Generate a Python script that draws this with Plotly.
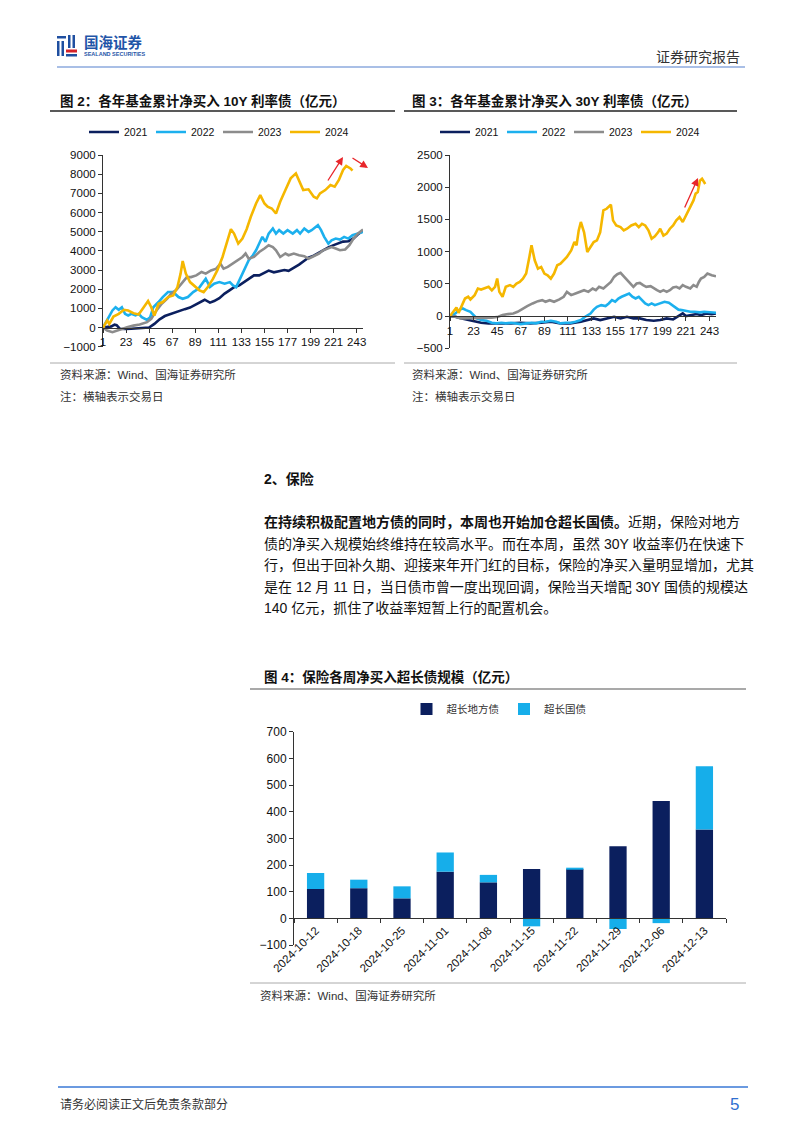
import plotly.graph_objects as go

W, H = 802, 1133


def X(p):
    return p / W


def Y(p):
    return 1 - p / H


# ---------------- data ----------------
years = ["2021", "2022", "2023", "2024"]
line_colors = ["#0b1f5e", "#1cb0ee", "#8c8c8c", "#f5b700"]
day_ticks = [1, 23, 45, 67, 89, 111, 133, 155, 177, 199, 221, 243]

# Figure 2: cumulative fund net purchase of 10Y rate bonds (100m CNY)
d10_2021 = [1, 5, 9, 12, 14, 17, 22, 28, 35, 40, 45, 50, 55, 60, 65, 70, 74, 79, 84, 88, 93, 98, 103, 107,
            112, 117, 122, 126, 131, 136, 140, 145, 150, 155, 159, 164, 169, 174, 178, 183, 188, 193, 197,
            202, 207, 211, 216, 221, 226, 230, 235, 240, 244, 249]
v10_2021 = [0, 40, 60, 150, 120, -60, -80, -60, -40, -20, 0, 190, 430, 600, 700, 820, 900, 960, 1040, 1150,
            1330, 1450, 1300, 1380, 1530, 1770, 1950, 2100, 2200, 2380, 2520, 2720, 2720, 2880, 2970, 2880,
            2950, 3000, 2960, 3100, 3280, 3480, 3640, 3750, 3900, 4050, 4180, 4300, 4420, 4480, 4500, 4650,
            4850, 5050]

d10_2022 = [1, 5, 10, 13, 16, 19, 22, 25, 28, 32, 35, 38, 43, 46, 49, 54, 58, 63, 68, 73, 77, 82, 87, 92, 96,
            99, 103, 107, 112, 117, 122, 125, 128, 131, 136, 140, 144, 147, 150, 153, 156, 159, 163, 166, 169,
            173, 177, 182, 186, 189, 193, 197, 200, 204, 206, 209, 212, 216, 219, 223, 227, 231, 235, 239, 243,
            249]
v10_2022 = [0, 370, 890, 1060, 925, 1060, 715, 630, 715, 630, 715, 540, 400, 540, 1060, 1330, 1590, 1850, 1850,
            1590, 1500, 1590, 1850, 2020, 2290, 2550, 2110, 2290, 2370, 2290, 2370, 2200, 2110, 2460, 2980,
            3510, 3770, 4030, 4380, 4730, 4470, 4900, 5165, 4900, 5080, 4900, 5080, 4900, 5080, 4900, 5165,
            4990, 5080, 5250, 5340, 5080, 4730, 4380, 4550, 4640, 4590, 4730, 4640, 4820, 4900, 4990]

d10_2023 = [1, 5, 10, 14, 19, 24, 30, 36, 43, 47, 52, 57, 62, 66, 71, 76, 81, 85, 90, 95, 99, 104, 109, 113,
            116, 120, 125, 129, 134, 137, 140, 145, 150, 155, 159, 163, 166, 170, 175, 178, 183, 188, 193, 197,
            202, 207, 211, 215, 219, 223, 227, 232, 236, 240, 244, 249]
v10_2023 = [0, -160, -240, -160, -70, 20, 100, 160, 280, 450, 890, 1240, 1500, 1760, 1970, 2290, 2630, 2630,
            2720, 2900, 2810, 2980, 3070, 3330, 3070, 3160, 3330, 3510, 3680, 3860, 3590, 3680, 3940, 4120,
            4290, 4200, 4030, 3680, 3860, 3770, 3860, 3770, 3720, 3590, 3720, 3860, 4030, 4120, 4200, 4120,
            4030, 4070, 4290, 4640, 4900, 5110]

d10_2024 = [1, 5, 7, 11, 16, 21, 25, 30, 35, 40, 44, 47, 50, 54, 58, 63, 68, 72, 75, 77, 80, 84, 88, 93, 97,
            101, 106, 110, 115, 120, 123, 126, 130, 134, 138, 142, 147, 151, 155, 158, 162, 166, 170, 175, 180,
            185, 189, 192, 197, 202, 205, 208, 213, 218, 222, 226, 230, 233, 237, 239]
v10_2024 = [0, 366, 190, 575, 715, 925, 890, 750, 680, 1060, 1380, 1060, 630, 1240, 1330, 1590, 1675, 2110,
            2810, 3470, 2810, 2370, 2200, 1940, 1850, 2110, 2550, 2980, 3680, 4550, 5130, 4900, 4380, 4640,
            5130, 5780, 6470, 6910, 6470, 6300, 6210, 5950, 6560, 7170, 7780, 8040, 7520, 7170, 7210, 6820,
            6740, 7000, 7170, 7430, 7350, 7700, 8220, 8430, 8300, 8180]

# Figure 3: cumulative fund net purchase of 30Y rate bonds (100m CNY)
d30_2021 = [1, 6, 12, 18, 24, 30, 37, 43, 49, 58, 67, 76, 86, 95, 104, 113, 123, 130, 135, 141, 148, 154, 160,
            166, 172, 178, 184, 191, 197, 203, 209, 215, 218, 221, 226, 231, 235, 240, 245, 249]
v30_2021 = [0, -10, -36, -62, -88, -103, -113, -113, -124, -113, -103, -113, -103, -88, -113, -113, -88, -62,
            -36, -62, -36, -10, -36, -10, -36, -36, -62, -72, -62, -36, -52, 15, 41, 0, 15, 31, 15, 41, 31, 41]

d30_2022 = [1, 6, 10, 13, 16, 20, 23, 26, 30, 35, 40, 44, 49, 53, 58, 63, 67, 72, 77, 81, 86, 90, 95, 100, 104,
            109, 114, 118, 123, 127, 132, 135, 138, 142, 146, 149, 152, 155, 158, 161, 164, 168, 171, 174, 177,
            180, 183, 186, 189, 192, 195, 198, 201, 205, 208, 211, 214, 217, 220, 225, 229, 234, 238, 245, 249]
v30_2022 = [0, 40, 100, 118, 93, 67, 15, -36, -62, -72, -103, -113, -103, -113, -103, -113, -124, -113, -103,
            -113, -88, -88, -72, -88, -113, -103, -103, -88, -62, -10, 40, 100, 144, 170, 155, 196, 247, 222,
            273, 300, 325, 350, 300, 273, 300, 247, 196, 170, 196, 170, 185, 196, 222, 206, 170, 144, 100, 93,
            82, 67, 67, 57, 67, 57, 52]

d30_2023 = [1, 6, 11, 20, 30, 40, 46, 50, 55, 60, 64, 69, 73, 78, 83, 87, 90, 94, 98, 103, 107, 110, 114, 118,
            123, 126, 130, 134, 137, 140, 144, 148, 151, 154, 157, 160, 163, 166, 169, 172, 175, 178, 181, 184,
            188, 191, 194, 197, 200, 203, 206, 209, 212, 215, 218, 221, 225, 228, 231, 233, 235, 238, 241, 245,
            249]
v30_2023 = [0, -10, -36, -36, -36, -26, -10, 15, 31, 41, 67, 118, 155, 196, 232, 247, 222, 247, 222, 258, 300,
            376, 325, 350, 376, 402, 376, 428, 402, 454, 428, 480, 530, 608, 650, 670, 618, 556, 505, 454, 505,
            515, 480, 454, 464, 428, 402, 376, 402, 376, 402, 443, 454, 428, 480, 454, 428, 480, 454, 530, 582,
            608, 660, 634, 618]

d30_2024 = [1, 4, 7, 9, 12, 15, 18, 20, 24, 27, 30, 33, 37, 40, 43, 45, 47, 50, 53, 57, 60, 63, 66, 69, 72, 75,
            77, 80, 83, 86, 89, 92, 95, 98, 101, 104, 107, 110, 114, 117, 119, 121, 123, 126, 129, 132, 135,
            138, 141, 144, 147, 151, 153, 156, 160, 163, 166, 170, 174, 177, 180, 183, 186, 189, 192, 195, 197,
            200, 203, 206, 209, 212, 215, 218, 221, 225, 228, 230, 232, 234, 236, 239]
v30_2024 = [0, 67, 134, 50, 170, 273, 300, 258, 325, 428, 412, 428, 454, 400, 454, 582, 376, 300, 454, 480,
            454, 505, 530, 582, 660, 918, 1098, 866, 737, 763, 660, 634, 582, 660, 789, 814, 866, 918, 1020,
            1150, 1100, 1330, 1460, 1300, 995, 1072, 1150, 1175, 1300, 1640, 1665, 1730, 1485, 1407, 1380, 1330,
            1356, 1407, 1433, 1380, 1433, 1407, 1330, 1200, 1237, 1300, 1356, 1250, 1280, 1356, 1407, 1485,
            1536, 1460, 1560, 1690, 1795, 1900, 1925, 2100, 2130, 2050]

# Figure 4: insurers' weekly net purchase of ultra-long bonds (100m CNY)
weeks = ["2024-10-12", "2024-10-18", "2024-10-25", "2024-11-01", "2024-11-08",
         "2024-11-15", "2024-11-22", "2024-11-29", "2024-12-06", "2024-12-13"]
local_bonds = [110, 113, 75, 175, 135, 185, 185, 270, 440, 333]
gov_bonds = [60, 32, 45, 72, 28, -30, 5, -40, -18, 237]

# ---------------- figure ----------------
LAT = "Liberation Sans, Arial, sans-serif"
CJK = "Liberation Sans, Noto Sans CJK SC, sans-serif"

fig = go.Figure()

series10 = [(d10_2021, v10_2021), (d10_2022, v10_2022), (d10_2023, v10_2023), (d10_2024, v10_2024)]
series30 = [(d30_2021, v30_2021), (d30_2022, v30_2022), (d30_2023, v30_2023), (d30_2024, v30_2024)]

for name, col, (dx, vy) in zip(years, line_colors, series10):
    fig.add_trace(go.Scatter(x=dx, y=vy, mode="lines", name=name, line=dict(color=col, width=2.6),
                             xaxis="x", yaxis="y", legend="legend"))
for name, col, (dx, vy) in zip(years, line_colors, series30):
    fig.add_trace(go.Scatter(x=dx, y=vy, mode="lines", name=name, line=dict(color=col, width=2.6),
                             xaxis="x2", yaxis="y2", legend="legend2"))

fig.add_trace(go.Bar(x=weeks, y=local_bonds, name="超长地方债", marker=dict(color="#0b1f5e", line=dict(width=0)),
                     xaxis="x3", yaxis="y3", legend="legend3"))
fig.add_trace(go.Bar(x=weeks, y=gov_bonds, name="超长国债", marker=dict(color="#16aeea", line=dict(width=0)),
                     xaxis="x3", yaxis="y3", legend="legend3"))

axis_common = dict(showgrid=False, zeroline=False, showline=True, linecolor="#333333", linewidth=1,
                   ticks="outside", ticklen=4, tickcolor="#333333", automargin=False)
tf_small = dict(family=LAT, size=11.5, color="#111111")

legend_common = dict(orientation="h", xanchor="center", yanchor="middle", itemwidth=30,
                     bgcolor="rgba(0,0,0,0)", traceorder="normal", borderwidth=0,
                     entrywidthmode="pixels")

fig.update_layout(
    width=W, height=H, autosize=False,
    margin=dict(l=0, r=0, t=0, b=0, pad=0, autoexpand=False),
    paper_bgcolor="white", plot_bgcolor="white",
    barmode="relative", bargap=0.6,
    xaxis=dict(domain=[X(103), X(363)], range=[1, 249], anchor="free", position=Y(327.5),
               tickvals=day_ticks, tickfont=tf_small, **axis_common),
    yaxis=dict(domain=[Y(346.7), Y(155)], range=[-1000, 9000], dtick=1000, anchor="x",
               tickfont=tf_small, **axis_common),
    xaxis2=dict(domain=[X(450), X(716)], range=[1, 249], anchor="free", position=Y(316.1),
                tickvals=day_ticks, tickfont=tf_small, **axis_common),
    yaxis2=dict(domain=[Y(348.3), Y(155)], range=[-500, 2500], dtick=500, anchor="x2",
                tickfont=tf_small, **axis_common),
    xaxis3=dict(domain=[X(294), X(726)], type="category", range=[-0.5, 9.5], anchor="free",
                position=Y(918.3), tickangle=-45, tickson="boundaries", tickfont=tf_small, **axis_common),
    yaxis3=dict(domain=[Y(945), Y(731.7)], range=[-100, 700], dtick=100, anchor="x3",
                tickfont=dict(family=LAT, size=12, color="#111111"), **axis_common),
    legend=dict(x=X(218), y=Y(132), font=dict(family=LAT, size=10.5, color="#111111"),
                entrywidth=22, **legend_common),
    legend2=dict(x=X(569), y=Y(132), font=dict(family=LAT, size=10.5, color="#111111"),
                 entrywidth=22, **legend_common),
    legend3=dict(x=X(499), y=Y(709), font=dict(family=CJK, size=10.5, color="#333333"),
                 **legend_common),
    showlegend=True,
)

shapes = []


def hline(x0, x1, y, color, width=1):
    shapes.append(dict(type="line", xref="paper", yref="paper", x0=X(x0), x1=X(x1), y0=Y(y), y1=Y(y),
                       line=dict(color=color, width=width)))


def rect(x0, y0, x1, y1, color):
    shapes.append(dict(type="rect", xref="paper", yref="paper", x0=X(x0), x1=X(x1), y0=Y(y1), y1=Y(y0),
                       fillcolor=color, line=dict(width=0)))


# header
hline(57, 745, 67, "#a9bfe6", 2)
# logo icon
rect(57, 36, 66, 38.5, "#1f4fa0")
rect(57, 41, 59.5, 56, "#1f4fa0")
rect(61.5, 41, 64, 56, "#1f4fa0")
rect(68, 35, 70.5, 48, "#1f4fa0")
rect(72.5, 35, 75, 48, "#1f4fa0")
rect(66, 49.5, 77, 52.5, "#d6232a")
rect(66, 54, 77, 56.5, "#1f4fa0")
# figure title underlines
hline(50, 395, 111, "#222222", 1.5)
hline(404, 737, 111, "#222222", 1.5)
hline(250, 746, 689, "#555555", 1.2)
# source separators
hline(50, 395, 363, "#aaaaaa", 1)
hline(404, 737, 363, "#aaaaaa", 1)
hline(250, 746, 983, "#aaaaaa", 1)
# footer
hline(58, 748, 1087, "#3a78d6", 1.5)

fig.update_layout(shapes=shapes)

annots = []


def text(x, y, s, size, family=CJK, color="#111111", anchor="left"):
    annots.append(dict(xref="paper", yref="paper", x=X(x), y=Y(y), text=s, showarrow=False,
                       xanchor=anchor, yanchor="middle", font=dict(family=family, size=size, color=color)))


def arrow(x0, y0, x1, y1):
    annots.append(dict(xref="paper", yref="paper", x=X(x1), y=Y(y1), ax=x0 - x1, ay=y0 - y1,
                       axref="pixel", ayref="pixel", text="", showarrow=True, arrowhead=2,
                       arrowsize=1.2, arrowwidth=1.3, arrowcolor="#e8262b"))


text(82, 43, "<b>国海证券</b>", 14.5, color="#1f55a8")
text(82, 54, "<b>SEALAND SECURITIES</b>", 5.5, family=LAT, color="#1f55a8")
text(742, 57, "证券研究报告", 14, color="#333333", anchor="right")

text(58, 101, "<b>图 2：各年基金累计净买入 10Y 利率债（亿元）</b>", 13.5)
text(410, 101, "<b>图 3：各年基金累计净买入 30Y 利率债（亿元）</b>", 13.5)

text(58, 375, "资料来源：Wind、国海证券研究所", 11.5, color="#333333")
text(58, 396, "注：横轴表示交易日", 11.5, color="#333333")
text(410, 375, "资料来源：Wind、国海证券研究所", 11.5, color="#333333")
text(410, 396, "注：横轴表示交易日", 11.5, color="#333333")

text(262, 479, "<b>2、保险</b>", 14)
para = [
    "<b>在持续积极配置地方债的同时，本周也开始加仓超长国债。</b>近期，保险对地方",
    "债的净买入规模始终维持在较高水平。而在本周，虽然 30Y 收益率仍在快速下",
    "行，但出于回补久期、迎接来年开门红的目标，保险的净买入量明显增加，尤其",
    "是在 12 月 11 日，当日债市曾一度出现回调，保险当天增配 30Y 国债的规模达",
    "140 亿元，抓住了收益率短暂上行的配置机会。",
]
for i, line in enumerate(para):
    text(262, 522 + i * 21.6, line, 14)

text(262, 677, "<b>图 4：保险各周净买入超长债规模（亿元）</b>", 13.5)
text(258, 995, "资料来源：Wind、国海证券研究所", 11.5, color="#333333")

text(58, 1104, "请务必阅读正文后免责条款部分", 12, color="#333333")
text(741, 1104, "5", 17, family=LAT, color="#2f6fd0", anchor="right")

# red arrows
arrow(327, 182, 343, 157)
arrow(351, 157, 368, 168)
arrow(684, 209, 698, 178)

fig.update_layout(annotations=annots)

fig.write_html("out.html", config={"displayModeBar": False},
               post_script="document.body.style.margin='0';document.body.style.overflow='hidden';")
